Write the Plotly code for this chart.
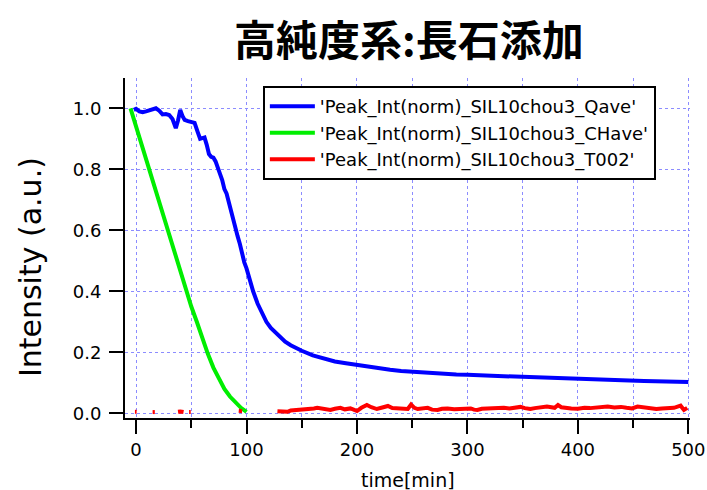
import plotly.graph_objects as go

# ---- data ----
qave_t = [-2, 0, 3, 6, 9, 12, 15, 18, 21, 24, 27, 30, 33, 36, 38, 40, 42, 44, 47, 50,
          53, 56, 58, 60, 62, 64, 66, 68, 70, 72, 74, 76, 78, 80, 82, 84, 86, 88, 90, 92,
          94, 96, 98, 100, 103, 106, 110, 114, 118, 122, 126, 130, 135, 140, 145, 150,
          160, 170, 180, 190, 200, 210, 220, 230, 240, 250, 260, 270, 280, 290, 300,
          320, 340, 360, 380, 400, 420, 440, 460, 480, 500]
qave_v = [0.995, 0.998, 0.99, 0.987, 0.99, 0.994, 0.996, 1.0, 0.992, 0.98, 0.981, 0.978,
          0.965, 0.935, 0.96, 0.995, 0.975, 0.962, 0.958, 0.955, 0.952, 0.92, 0.90, 0.902,
          0.904, 0.88, 0.85, 0.841, 0.838, 0.826, 0.80, 0.785, 0.765, 0.735, 0.72, 0.69,
          0.667, 0.64, 0.605, 0.58, 0.555, 0.52, 0.495, 0.475, 0.435, 0.40, 0.36, 0.33,
          0.30, 0.28, 0.265, 0.25, 0.235, 0.223, 0.213, 0.205, 0.19, 0.179, 0.170, 0.164,
          0.158, 0.153, 0.148, 0.143, 0.139, 0.136, 0.133, 0.131, 0.129, 0.127, 0.126,
          0.123, 0.121, 0.118, 0.116, 0.112, 0.110, 0.108, 0.106, 0.105, 0.103]

chave_t = [-5, 0, 5, 10, 15, 20, 25, 30, 35, 40, 45, 50, 55, 60, 65, 70, 75, 80, 85, 90, 95, 100]
chave_v = [1.0, 0.94, 0.885, 0.83, 0.77, 0.71, 0.65, 0.59, 0.525, 0.47, 0.41, 0.35, 0.30,
           0.245, 0.195, 0.15, 0.115, 0.08, 0.055, 0.035, 0.018, 0.005]

t002_t = [-1, 0.5, None, 15, 17, None, 38, 40, 43, None, 48, 49.5, None, 93, 96, None,
          128, 131, 134, 137, 140, 143, 146, 149, 152, 155, 158, 161, 164, 167, 171, 176,
          180, 185, 189, 194, 197, 200, 204, 209, 213, 218, 223, 228, 232, 237, 241, 246,
          249, 252, 255, 259, 264, 268, 273, 277, 282, 288, 294, 298, 303, 306, 309, 313,
          318, 323, 328, 333, 338, 343, 348, 352, 357, 361, 366, 372, 379, 382, 385, 390,
          394, 400, 406, 411, 416, 421, 427, 433, 439, 444, 449, 454, 460, 466, 471, 476,
          481, 487, 493, 496, 499]
t002_v = [0.005, 0.005, None, 0.004, 0.004, None, 0.005, 0.006, 0.004, None, 0.004, 0.004,
          None, 0.008, 0.007, None,
          0.007, 0.006, 0.008, 0.005, 0.009, 0.010, 0.008, 0.012, 0.010, 0.014, 0.012,
          0.016, 0.018, 0.016, 0.012, 0.011, 0.015, 0.018, 0.013, 0.016, 0.012, 0.0075,
          0.018, 0.027, 0.020, 0.014, 0.019, 0.024, 0.017, 0.016, 0.014, 0.014, 0.029,
          0.018, 0.014, 0.016, 0.018, 0.012, 0.011, 0.015, 0.016, 0.013, 0.014, 0.016,
          0.016, 0.012, 0.011, 0.015, 0.016, 0.014, 0.015, 0.018, 0.016, 0.017, 0.021,
          0.017, 0.014, 0.017, 0.018, 0.022, 0.018, 0.027, 0.020, 0.016, 0.016, 0.015,
          0.018, 0.017, 0.018, 0.018, 0.022, 0.019, 0.021, 0.018, 0.016, 0.022, 0.019,
          0.016, 0.014, 0.016, 0.016, 0.018, 0.025, 0.011, 0.018]

series_names = ["'Peak_Int(norm)_SIL10chou3_Qave'",
                "'Peak_Int(norm)_SIL10chou3_CHave'",
                "'Peak_Int(norm)_SIL10chou3_T002'"]
series_colors = ["#0000ff", "#00ee00", "#ff0000"]

x_ticks = [0, 100, 200, 300, 400, 500]
y_ticks = [0.0, 0.2, 0.4, 0.6, 0.8, 1.0]
y_tick_text = ["0.0", "0.2", "0.4", "0.6", "0.8", "1.0"]

title_text = "高純度系:長石添加"
x_title = "time[min]"
y_title = "Intensity (a.u.)"

# ---- figure ----
fig = go.Figure()
for t, v, name, col in [(qave_t, qave_v, series_names[0], series_colors[0]),
                        (chave_t, chave_v, series_names[1], series_colors[1]),
                        (t002_t, t002_v, series_names[2], series_colors[2])]:
    fig.add_trace(go.Scatter(x=t, y=v, mode="lines", name=name,
                             line=dict(color=col, width=4),
                             connectgaps=False))

grid_col = "#8c8cff"
sans = "DejaVu Sans, Arial, sans-serif"
tick_font = dict(family=sans, size=18, color="black")

fig.update_layout(
    width=707, height=490,
    margin=dict(l=125, r=17, t=78, b=72),
    paper_bgcolor="white", plot_bgcolor="white",
    showlegend=True,
    legend=dict(x=0.244, y=0.976, xanchor="left", yanchor="top",
                bgcolor="white", bordercolor="black", borderwidth=2,
                font=dict(family=sans, size=18, color="black"),
                itemwidth=45, tracegroupgap=0),
    xaxis=dict(range=[-10, 501.5], tickmode="array", tickvals=x_ticks,
               automargin=False,
               ticks="outside", ticklen=14, tickwidth=2, tickcolor="black",
               showline=True, linecolor="black", linewidth=2,
               showgrid=True, gridcolor=grid_col, griddash="dot", gridwidth=1,
               zeroline=False, tickfont=tick_font,
               minor=dict(dtick=50, tick0=0, ticks="outside", ticklen=8, tickwidth=2,
                          tickcolor="black", showgrid=True, gridcolor=grid_col,
                          griddash="dot", gridwidth=1)),
    yaxis=dict(range=[-0.0154, 1.0993], tickmode="array", tickvals=y_ticks,
               ticktext=y_tick_text, automargin=False,
               ticks="outside", ticklen=14, tickwidth=2, tickcolor="black",
               showline=True, linecolor="black", linewidth=2,
               showgrid=True, gridcolor=grid_col, griddash="dot", gridwidth=1,
               zeroline=False, tickfont=tick_font, ticklabelstandoff=4),
    annotations=[
        dict(text="<b>" + title_text + "</b>", x=0.503, y=1.12, xref="paper", yref="paper",
             xanchor="center", yanchor="middle", showarrow=False,
             font=dict(family="Noto Sans CJK JP", size=42, color="black")),
        dict(text=y_title, x=-0.168, y=0.444, xref="paper", yref="paper",
             xanchor="center", yanchor="middle", showarrow=False, textangle=-90,
             font=dict(family=sans, size=30, color="black")),
        dict(text=x_title, x=0.5, y=-0.182, xref="paper", yref="paper",
             xanchor="center", yanchor="middle", showarrow=False,
             font=dict(family=sans, size=19, color="black")),
    ],
)

fig.write_html("out.html", config={"displayModeBar": False},
               post_script="document.body.style.margin='0';")
